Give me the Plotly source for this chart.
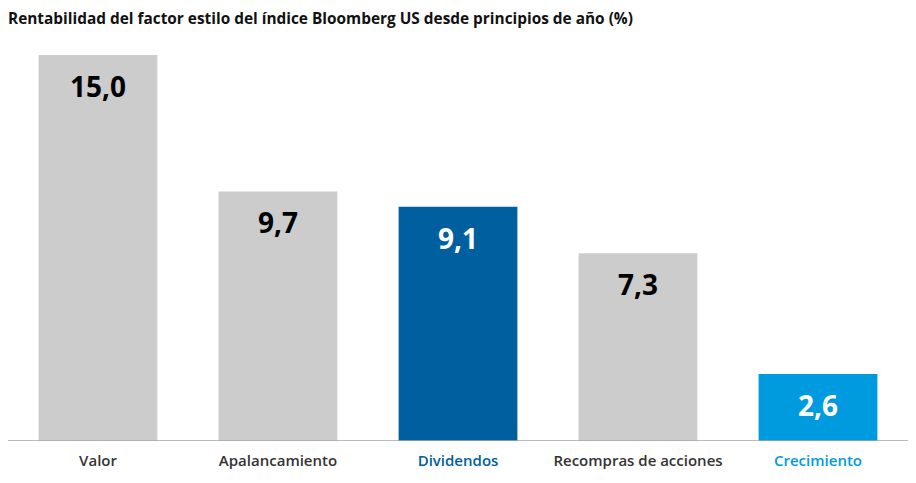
import plotly.graph_objects as go

categories = ["Valor", "Apalancamiento", "Dividendos", "Recompras de acciones", "Crecimiento"]
values = [15.0, 9.7, 9.1, 7.3, 2.6]
bar_colors = ["#cccccc", "#cccccc", "#005f9e", "#cccccc", "#009bde"]
label_colors = ["#000000", "#000000", "#ffffff", "#000000", "#ffffff"]
tick_colors = ["#333333", "#333333", "#005f9e", "#333333", "#009bde"]
title = "Rentabilidad del factor estilo del índice Bloomberg US desde principios de año (%)"

FONT = "Open Sans"

fig = go.Figure()
fig.add_trace(go.Bar(
    x=categories, y=values, marker=dict(color=bar_colors, line=dict(width=0)),
    hoverinfo="skip",
))

for c, v, col in zip(categories, values, label_colors):
    fig.add_annotation(
        x=c, y=v, xref="x", yref="y",
        text=f"{v:.1f}".replace(".", ","),
        showarrow=False, yanchor="middle", yshift=-31,
        font=dict(family=FONT, size=28, color=col, weight=700),
    )

ticktext = [f"<span style='color:{tc}'>{c}</span>" for c, tc in zip(categories, tick_colors)]

fig.add_shape(type="line", xref="paper", yref="y", x0=0, x1=1.01, y0=0, y1=0,
              line=dict(color="#a6a6a6", width=1.5))

fig.update_layout(
    width=908, height=475,
    margin=dict(l=0, r=8, t=47, b=42),
    paper_bgcolor="white", plot_bgcolor="white",
    bargap=0.34,
    showlegend=False,
    title=dict(text=title, x=0.0, xanchor="left", y=0.978, yanchor="middle",
               font=dict(family=FONT, size=15.4, color="#111111", weight=700)),
    xaxis=dict(tickmode="array", tickvals=categories, ticktext=ticktext,
               tickfont=dict(family=FONT, size=15, color="#333333", weight=600),
               ticklabelstandoff=9,
               showgrid=False, showline=False, zeroline=False, ticks="", ticklen=0),
    yaxis=dict(range=[0, 15], visible=False, showgrid=False, zeroline=False, fixedrange=True),
)

fig.write_html("out.html")
